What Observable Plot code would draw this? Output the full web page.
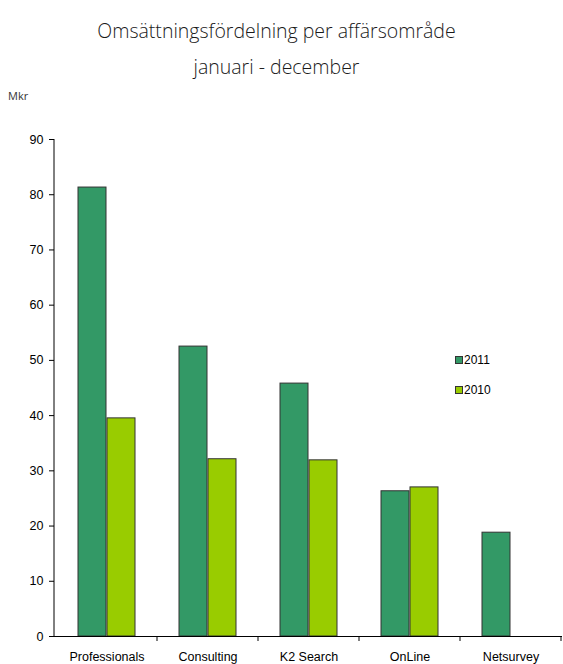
<!DOCTYPE html>
<html><head><meta charset="utf-8">
<script src="https://cdn.jsdelivr.net/npm/d3@7"></script>
<script src="https://cdn.jsdelivr.net/npm/@observablehq/plot@0.6"></script>
<style>
body{margin:0;background:#fff;}
#wrap{position:relative;width:563px;height:664px;overflow:hidden;}
.t{position:absolute;left:0;width:553px;text-align:center;font-family:"Open Sans",sans-serif;font-weight:300;font-size:19.5px;color:#1a1a1a;}
#mkr{position:absolute;left:8px;top:88px;font-family:"Open Sans",sans-serif;font-size:11px;color:#333;}
#chart{position:absolute;left:0;top:100px;}
.lg{position:absolute;left:455px;font-family:"Liberation Sans",Arial,sans-serif;font-size:12px;color:#000;display:flex;align-items:center;}
.lg span.sw{display:inline-block;width:6px;height:6px;border:1px solid #333;margin-right:1px;}
</style></head>
<body><div id="wrap">
<div class="t" style="top:17px">Omsättningsfördelning per affärsområde</div>
<div class="t" style="top:53px">januari - december</div>
<div id="mkr">Mkr</div>
<div id="chart"></div>
<div class="lg" style="top:353px"><span class="sw" style="background:#339966"></span>2011</div>
<div class="lg" style="top:383px"><span class="sw" style="background:#99cc00"></span>2010</div>
</div>
<script>
const categories = ["Professionals","Consulting","K2 Search","OnLine","Netsurvey"];
const values2011 = [81.3, 52.5, 45.8, 26.3, 18.8];
const values2010 = [39.5, 32.1, 31.9, 27.0, null];
const yTicks = [0,10,20,30,40,50,60,70,80,90];

const d2011 = categories.map((c,i)=>({cat:c, v:values2011[i]}));
const d2010 = categories.map((c,i)=>({cat:c, v:values2010[i]})).filter(d=>d.v!=null);

const plot = Plot.plot({
  width:563, height:564,
  marginTop:39, marginBottom:28, marginLeft:54, marginRight:1,
  style:{fontFamily:'"Liberation Sans", Arial, sans-serif', fontSize:"12px", background:"#fff", color:"#000"},
  x:{domain:categories, padding:0, label:null},
  y:{domain:[0,90], label:null},
  marks:[
    Plot.barY(d2011,{x:"cat", y:"v", fill:"#339966", stroke:"#333", strokeWidth:1, insetLeft:22, insetRight:51}),
    Plot.barY(d2010,{x:"cat", y:"v", fill:"#99cc00", stroke:"#333", strokeWidth:1, insetLeft:51, insetRight:22}),
    Plot.ruleY([0],{stroke:"#000"}),
    Plot.axisY({ticks:yTicks, tickSize:5, tickPadding:6, label:null, fontSize:12.5}),
    Plot.axisX({tickSize:0, tickPadding:16, label:null, fontSize:12.5})
  ]
});
document.getElementById("chart").appendChild(plot);

// axis line and category boundary ticks from the plot's own scales
const xs = plot.scale("x"), ys = plot.scale("y");
const svg = d3.select(plot);
const y0 = ys.apply(0), yTop = ys.apply(90);
const x0 = xs.range[0];
svg.append("line").attr("x1",x0).attr("x2",x0).attr("y1",yTop).attr("y2",y0).attr("stroke","#000");
const bounds = categories.map(c=>xs.apply(c)+xs.bandwidth);
bounds.forEach(b=>{
  svg.append("line").attr("x1",b).attr("x2",b).attr("y1",y0).attr("y2",y0+5).attr("stroke","#000");
});
</script>
</body></html>
